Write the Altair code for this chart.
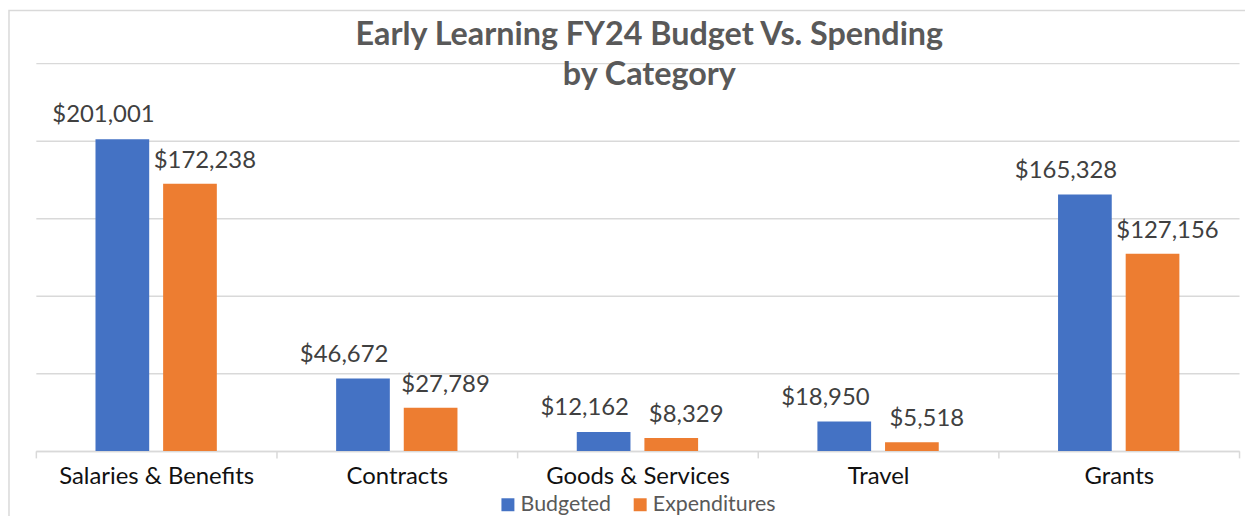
import altair as alt
import pandas as pd

categories = ["Salaries & Benefits", "Contracts", "Goods & Services", "Travel", "Grants"]
budgeted = [201001, 46672, 12162, 18950, 165328]
expenditures = [172238, 27789, 8329, 5518, 127156]
series = ["Budgeted", "Expenditures"]
colors = ["#4472C4", "#ED7D31"]
grid_values = [0, 50000, 100000, 150000, 200000, 250000]

rows = []
for c, b, e in zip(categories, budgeted, expenditures):
    rows.append({"Category": c, "Series": "Budgeted", "Value": b})
    rows.append({"Category": c, "Series": "Expenditures", "Value": e})
df = pd.DataFrame(rows)

FONT = "Lato"

x = alt.X(
    "Category:N",
    sort=categories,
    scale=alt.Scale(paddingInner=0, paddingOuter=0),
    axis=alt.Axis(
        title=None, labelAngle=0, tickBand="extent", grid=False,
        labelFont=FONT, labelFontSize=24, labelColor="#111111",
        labelPadding=7, labelLimit=0, tickSize=7, tickColor="#d9d9d9",
        domainColor="#d9d9d9", domainWidth=1.5, tickWidth=1.5,
    ),
)
y = alt.Y(
    "Value:Q",
    scale=alt.Scale(domain=[0, 250000], nice=False),
    axis=alt.Axis(
        title=None, labels=False, ticks=False, domain=False,
        values=grid_values, gridColor="#d9d9d9", gridWidth=1.5,
    ),
)
xoff = alt.XOffset(
    "Series:N", sort=series,
    scale=alt.Scale(domain=series, paddingInner=0.206, paddingOuter=0.882),
)
color = alt.Color(
    "Series:N",
    sort=series,
    scale=alt.Scale(domain=series, range=colors),
    legend=alt.Legend(
        title=None, orient="none", legendX=464, legendY=433,
        direction="horizontal",
        symbolType="square", symbolSize=170, symbolStrokeWidth=0,
        labelFont=FONT, labelFontSize=21.5, labelColor="#595959",
        columnPadding=18, labelOffset=2,
    ),
)

base = alt.Chart(df)
bars = base.mark_bar().encode(x=x, y=y, xOffset=xoff, color=color)

lab_b = base.transform_filter(alt.datum.Series == "Budgeted").mark_text(
    font=FONT, fontSize=24, color="#404040", baseline="alphabetic", dx=-19, dy=-17
).encode(x=x, y=y, xOffset=xoff, text=alt.Text("Value:Q", format="$,.0f"))
lab_e = base.transform_filter(alt.datum.Series == "Expenditures").mark_text(
    font=FONT, fontSize=24, color="#404040", baseline="alphabetic", dx=15, dy=-16
).encode(x=x, y=y, xOffset=xoff, text=alt.Text("Value:Q", format="$,.0f"))

border = alt.Chart(pd.DataFrame({"a": [0]})).mark_rect(
    fillOpacity=0, stroke="#d9d9d9", strokeWidth=1.5
).encode(
    x=alt.value(-27), x2=alt.value(1230),
    y=alt.value(-53), y2=alt.value(520),
)

chart = alt.layer(border, bars, lab_b, lab_e).properties(
    width=1210,
    height=390,
    padding={"left": 28, "top": 54, "right": 6, "bottom": 64},
    autosize=alt.AutoSizeParams(type="none"),
    title=alt.Title(
        ["Early Learning FY24 Budget Vs. Spending", "by Category"],
        font=FONT, fontSize=32.5, fontWeight="bold", color="#595959",
        anchor="middle", lineHeight=40, offset=-82, dx=12,
    ),
).configure_view(stroke=None)

chart.save("out.html", embed_options={"renderer": "svg", "actions": False})
